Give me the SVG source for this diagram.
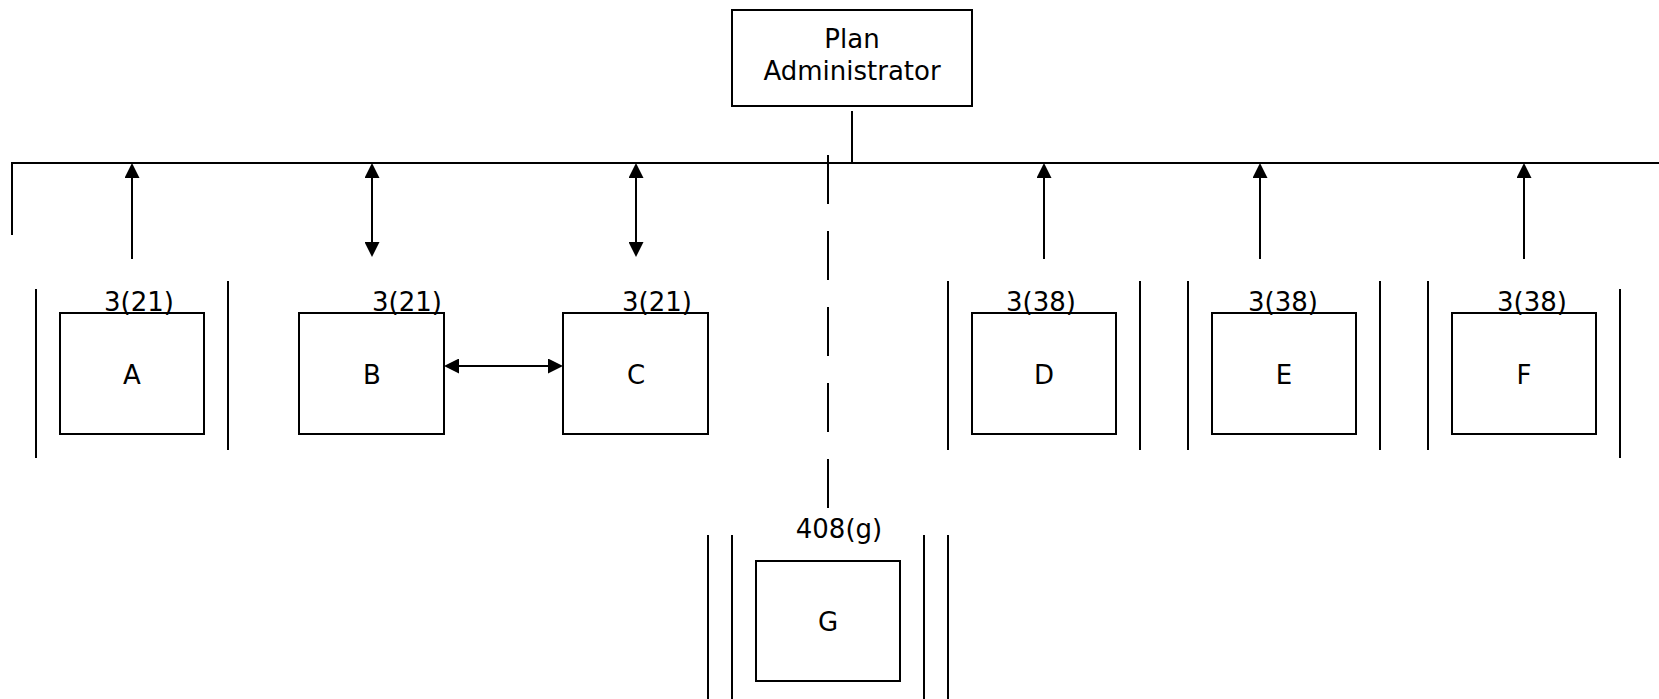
<svg xmlns="http://www.w3.org/2000/svg" width="1659" height="699" viewBox="0 0 1659 699">
<style>
.box{fill:#fff;stroke:#000;stroke-width:2}
.ln{fill:none;stroke:#000;stroke-width:2}
.t{font-family:"DejaVu Sans","Liberation Sans",sans-serif;font-size:26px;fill:#000;text-anchor:middle}
</style>
<defs>
<marker id="ah" viewBox="0 0 15 15" refX="7" refY="7.5" markerWidth="15" markerHeight="15" markerUnits="userSpaceOnUse" orient="auto-start-reverse">
<path d="M0,0 L15,7.5 L0,15 z" fill="#000"/>
</marker>
</defs>
<rect width="1659" height="699" fill="#fff"/>
<g id="connectors">
<polyline class="ln" points="12,235 12,163 1659,163"/>
<line class="ln" x1="852" y1="111" x2="852" y2="163"/>
<line class="ln" x1="828" y1="155" x2="828" y2="508" stroke-dasharray="49 27"/>
<line class="ln" x1="132" y1="259" x2="132" y2="171" marker-end="url(#ah)"/>
<line class="ln" x1="372" y1="249" x2="372" y2="171" marker-start="url(#ah)" marker-end="url(#ah)"/>
<line class="ln" x1="636" y1="249" x2="636" y2="171" marker-start="url(#ah)" marker-end="url(#ah)"/>
<line class="ln" x1="1044" y1="259" x2="1044" y2="171" marker-end="url(#ah)"/>
<line class="ln" x1="1260" y1="259" x2="1260" y2="171" marker-end="url(#ah)"/>
<line class="ln" x1="1524" y1="259" x2="1524" y2="171" marker-end="url(#ah)"/>
<line class="ln" x1="452" y1="366" x2="555" y2="366" marker-start="url(#ah)" marker-end="url(#ah)"/>
</g>
<g id="plan-administrator">
<rect class="box" x="732" y="10" width="240" height="96"/>
<text class="t" x="852" y="48">Plan</text>
<text class="t" x="852" y="80">Administrator</text>
</g>
<g id="node-a">
<line class="ln" x1="36" y1="289" x2="36" y2="458"/>
<line class="ln" x1="228" y1="281" x2="228" y2="450"/>
<rect class="box" x="60" y="313" width="144" height="121"/>
<text class="t" x="139" y="311">3(21)</text>
<text class="t" x="132" y="384">A</text>
</g>
<g id="node-b">
<rect class="box" x="299" y="313" width="145" height="121"/>
<text class="t" x="407" y="311">3(21)</text>
<text class="t" x="372" y="384">B</text>
</g>
<g id="node-c">
<rect class="box" x="563" y="313" width="145" height="121"/>
<text class="t" x="657" y="311">3(21)</text>
<text class="t" x="636" y="384">C</text>
</g>
<g id="node-d">
<line class="ln" x1="948" y1="281" x2="948" y2="450"/>
<line class="ln" x1="1140" y1="281" x2="1140" y2="450"/>
<rect class="box" x="972" y="313" width="144" height="121"/>
<text class="t" x="1041" y="311">3(38)</text>
<text class="t" x="1044" y="384">D</text>
</g>
<g id="node-e">
<line class="ln" x1="1188" y1="281" x2="1188" y2="450"/>
<line class="ln" x1="1380" y1="281" x2="1380" y2="450"/>
<rect class="box" x="1212" y="313" width="144" height="121"/>
<text class="t" x="1283" y="311">3(38)</text>
<text class="t" x="1284" y="384">E</text>
</g>
<g id="node-f">
<line class="ln" x1="1428" y1="281" x2="1428" y2="450"/>
<line class="ln" x1="1620" y1="289" x2="1620" y2="458"/>
<rect class="box" x="1452" y="313" width="144" height="121"/>
<text class="t" x="1532" y="311">3(38)</text>
<text class="t" x="1524" y="384">F</text>
</g>
<g id="node-g">
<line class="ln" x1="708" y1="535" x2="708" y2="699"/>
<line class="ln" x1="732" y1="535" x2="732" y2="699"/>
<line class="ln" x1="924" y1="535" x2="924" y2="699"/>
<line class="ln" x1="948" y1="535" x2="948" y2="699"/>
<rect class="box" x="756" y="561" width="144" height="120"/>
<text class="t" x="839" y="538">408(g)</text>
<text class="t" x="828" y="631">G</text>
</g>
</svg>
